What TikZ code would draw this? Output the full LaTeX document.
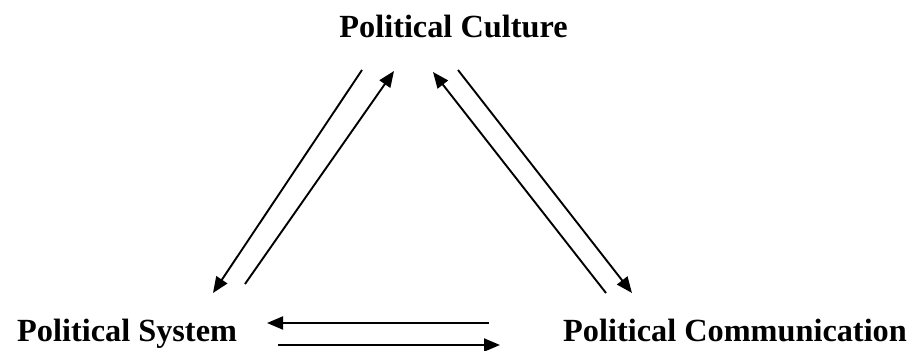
\documentclass[tikz,border=0pt]{standalone}
\usepackage{fontspec}
\setmainfont{Liberation Serif}
\usetikzlibrary{arrows.meta}

\tikzset{
	term/.style={font=\fontsize{32.3}{38}\selectfont\bfseries, inner sep=0pt},
	flow/.style={line width=1.9pt, -{Triangle[length=16pt,width=13pt]}}
}

\begin{document}
\begin{tikzpicture}[x=1pt,y=-1pt]
			\useasboundingbox (0,0) rectangle (922,351);
			\node[term, anchor=base] (culture) at (453.5,37) {Political Culture};
			\node[term, anchor=base west] (system) at (17,341) {Political System};
			\node[term, anchor=base west] (comm) at (563,341) {Political Communication};
			% ends of the connectors
			\coordinate (cul-a) at (362,70);
			\coordinate (sys-a) at (213,293);
			\coordinate (sys-b) at (245,284);
			\coordinate (cul-b) at (394,71);
			\coordinate (com-a) at (606,293);
			\coordinate (cul-c) at (433,72);
			\coordinate (cul-d) at (458,70);
			\coordinate (com-b) at (632,293);
			\coordinate (com-c) at (489,323);
			\coordinate (sys-c) at (267,323);
			\coordinate (sys-d) at (278,345);
			\coordinate (com-d) at (500,345);
			\draw[flow] (cul-a) -- (sys-a);
			\draw[flow] (sys-b) -- (cul-b);
			\draw[flow] (com-a) -- (cul-c);
			\draw[flow] (cul-d) -- (com-b);
			\draw[flow] (com-c) -- (sys-c);
			\draw[flow] (sys-d) -- (com-d);
		\end{tikzpicture}
\end{document}
